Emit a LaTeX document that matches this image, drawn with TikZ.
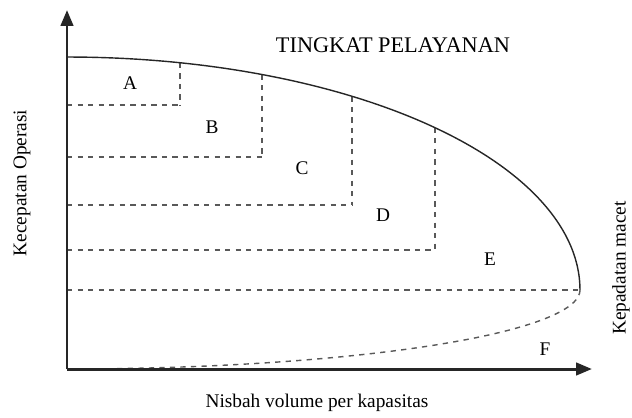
\documentclass[tikz,border=0pt]{standalone}
\usepackage{fontspec}
\setmainfont{Liberation Serif}
\usetikzlibrary{arrows.meta}

\begin{document}
\begin{tikzpicture}[x=0.02cm,y=-0.02cm,font=\fontsize{11}{13}\selectfont,
  axis/.style={line width=1.7pt,draw=black!85,-{Triangle[length=9pt,width=7pt]}},
  grid/.style={dashed,draw=black!65,thick},
  lbl/.style={inner sep=1pt}]
 \useasboundingbox (0,0) rectangle (632,417);

 \coordinate (O)  at (67,369);
 \coordinate (yt) at (67,10);
 \coordinate (xt) at (592,369);

 % level boundaries
 \foreach \y/\x in {105/180,157/262,205/352,250/435,290/580}
   \draw[grid] (67,\y) -- (\x,\y);
 \foreach \x/\y in {180/105,262/157,352/205,435/250}
   \draw[grid] (\x,{290-233*sqrt(1-((\x-67)/513)^2)}) -- (\x,\y);

 % speed curve
 \draw[thick,black!85] plot[domain=90:0,samples=60,smooth]
   ({67+513*cos(\x)},{290-233*sin(\x)});
 \draw[grid] plot[domain=0:-90,samples=40,smooth]
   ({67+513*cos(\x)},{290-79*sin(\x)});

 \draw[axis] (O) -- (yt);
 \draw[axis] (O) -- (xt);

 \node[lbl] (A) at (130,83)  {A};
 \node[lbl] (B) at (212,127) {B};
 \node[lbl] (C) at (302,168) {C};
 \node[lbl] (D) at (383,215) {D};
 \node[lbl] (E) at (490,259) {E};
 \node[lbl] (F) at (545,349) {F};

 \node[font=\fontsize{12.7}{15}\selectfont] (title) at (393,45) {TINGKAT PELAYANAN};
 \node[rotate=90] (ylab) at (22,183) {Kecepatan Operasi};
 \node[rotate=90] (jam)  at (621,268) {Kepadatan macet};
 \node (xlab) at (317,403) {Nisbah volume per kapasitas};
\end{tikzpicture}
\end{document}
